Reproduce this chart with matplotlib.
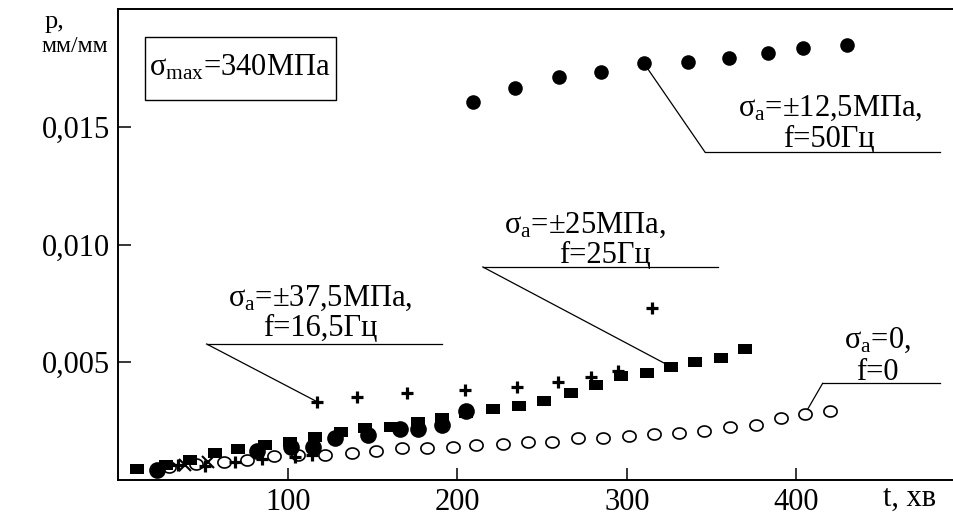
import numpy as np
import matplotlib

matplotlib.use("Agg")
import matplotlib.pyplot as plt
from matplotlib.patches import Rectangle

plt.rcParams["font.family"] = ["Liberation Serif", "DejaVu Serif"]
plt.rcParams["mathtext.fontset"] = "custom"
plt.rcParams["mathtext.rm"] = "Liberation Serif"
plt.rcParams["mathtext.it"] = "Liberation Serif:italic"

# sigma_a = +-12.5 MPa, f = 50 Hz (filled circles, top)
t_f50 = [209, 234, 260, 285, 310, 336, 360, 383, 404, 430]
p_f50 = [0.01607, 0.01663, 0.01713, 0.01734, 0.01770, 0.01776, 0.01791, 0.01812, 0.01833, 0.01847]

# filled circles, early part
t_dot = [22.5, 81.5, 102, 115, 128, 147, 166, 177, 191, 205]
p_dot = [0.00042, 0.00125, 0.00141, 0.00141, 0.0018, 0.00193, 0.00215, 0.00215, 0.00234, 0.00295]

# sigma_a = +-25 MPa, f = 25 Hz (squares)
t_sq = [10.7, 28, 42, 57, 70.7, 86.4, 101, 116, 131, 145.5, 161, 177, 191, 205, 221,
        236.5, 251, 267, 282, 296.5, 312, 326, 340, 355.5, 369.6]
p_sq = [0.00045, 0.00062, 0.00085, 0.00113, 0.0013, 0.0015, 0.00163, 0.00184, 0.00205,
        0.0022, 0.00226, 0.00248, 0.00265, 0.00283, 0.00303, 0.00314, 0.00337, 0.00368,
        0.00403, 0.00442, 0.00453, 0.00481, 0.00503, 0.00517, 0.00555]

# sigma_a = 0, f = 0 (open circles)
t_open = [30, 46, 62, 75.6, 92, 106, 122, 137.6, 152, 167, 182, 197.5, 211, 226.7, 241.8,
          256, 271, 285.7, 301, 316, 331, 345.6, 360.8, 376, 391, 405, 420]
p_open = [0.00057, 0.0007, 0.00078, 0.00085, 0.00102, 0.00107, 0.00105, 0.00113, 0.00124,
          0.00135, 0.00135, 0.00141, 0.00148, 0.00153, 0.0016, 0.00163, 0.00177, 0.0018,
          0.00187, 0.00195, 0.002, 0.00208, 0.00226, 0.00234, 0.00265, 0.0028, 0.00291]

# sigma_a = +-37.5 MPa, f = 16.5 Hz (pluses)
t_plus = [35, 51, 68.7, 84.5, 104, 114, 117, 140.5, 170, 204.5, 235, 259.5, 279, 295, 314.6]
p_plus = [0.00064, 0.0006, 0.00078, 0.00088, 0.00096, 0.00106, 0.00333, 0.00354, 0.00368,
          0.00384, 0.00396, 0.00417, 0.00439, 0.00463, 0.00729]

# crosses near the origin
t_x = [39, 53]
p_x = [0.00064, 0.00078]

x_ticks = [100, 200, 300, 400]
y_ticks = [0.005, 0.010, 0.015]
y_tick_labels = ["0,005", "0,010", "0,015"]

W, H = 954, 525
FS = 22

fig = plt.figure(figsize=(W / 100, H / 100), dpi=100)
ax = fig.add_axes([118.5 / W, 45 / H, (W - 118.5) / W, 471 / H])
ax.set_xlim(0, 493)
ax.set_ylim(0, 0.020)

theta = np.linspace(0, 2 * np.pi, 60)
ellipse = list(zip(1.2 * np.cos(theta), np.sin(theta)))
rect = [(-1.4, -1), (1.4, -1), (1.4, 1), (-1.4, 1), (-1.4, -1)]

ax.plot(t_open, p_open, ls="none", marker=ellipse, ms=9.5, mfc="white", mec="black",
        mew=1.2, zorder=3)
ax.plot(t_x, p_x, ls="none", marker="x", ms=8, mec="black", mew=1.5, zorder=4)
ax.plot(t_plus, p_plus, ls="none", marker="+", ms=8.5, mec="black", mew=2.3, zorder=5)
ax.plot(t_sq, p_sq, ls="none", marker=rect, ms=9.4, mfc="black", mec="black", mew=0,
        zorder=4)
ax.plot(t_dot, p_dot, ls="none", marker="o", ms=12, mfc="black", mec="black", mew=0,
        zorder=4)
ax.plot(t_f50, p_f50, ls="none", marker="o", ms=10.5, mfc="black", mec="black", mew=0,
        zorder=4)

lk = dict(color="black", lw=0.9, zorder=2)

# sigma_a=+-12.5
ax.plot([346, 485], [0.01393, 0.01393], **lk)
ax.plot([346, t_f50[4]], [0.01393, p_f50[4]], **lk)
ax.text(419.8, 0.0158, "σ$_\\mathrm{a}$=±12,5МПа,", fontsize=FS, ha="center", va="center")
ax.text(419.2, 0.01444, "f=50Гц", fontsize=FS, ha="center", va="center")

# sigma_a=+-25
ax.plot([215, 353.6], [0.009045, 0.009045], **lk)
ax.plot([215, t_sq[21]], [0.009045, p_sq[21]], **lk)
ax.text(275.2, 0.01083, "σ$_\\mathrm{a}$=±25МПа,", fontsize=FS, ha="center", va="center")
ax.text(287, 0.00955, "f=25Гц", fontsize=FS, ha="center", va="center")

# sigma_a=+-37.5
ax.plot([52, 190.7], [0.005775, 0.005775], **lk)
ax.plot([52, t_plus[6]], [0.005775, p_plus[6]], **lk)
ax.text(118.9, 0.00773, "σ$_\\mathrm{a}$=±37,5МПа,", fontsize=FS, ha="center", va="center")
ax.text(118.9, 0.006454, "f=16,5Гц", fontsize=FS, ha="center", va="center")

# sigma_a=0
ax.plot([415.5, 485], [0.004106, 0.004106], **lk)
ax.plot([415.5, t_open[25]], [0.004106, p_open[25]], **lk)
ax.text(448, 0.00595, "σ$_\\mathrm{a}$=0,", fontsize=FS, ha="center", va="center")
ax.text(447.7, 0.00458, "f=0", fontsize=FS, ha="center", va="center")

# sigma_max box
ax.add_patch(Rectangle((0.0317, 0.8068), 0.2286, 0.1338, transform=ax.transAxes,
                       fill=False, ec="black", lw=1.0, zorder=2))
ax.text(0.1454, 0.8747, "σ$_\\mathrm{max}$=340МПа", transform=ax.transAxes,
        fontsize=FS, ha="center", va="center")

ax.set_xticks(x_ticks)
ax.set_xticklabels([str(v) for v in x_ticks])
ax.set_yticks(y_ticks)
ax.set_yticklabels(y_tick_labels)
ax.tick_params(direction="in", length=9, width=1.1, labelsize=FS, color="black")
ax.tick_params(axis="y", pad=6)
ax.tick_params(axis="x", pad=6)
for side in ["left", "bottom", "top"]:
    ax.spines[side].set_linewidth(1.4)
ax.spines["right"].set_visible(False)

fig.text(54 / W, 1 - 22 / H, "p,", fontsize=19, ha="center", va="center")
fig.text(75 / W, 1 - 46 / H, "мм/мм", fontsize=17, ha="center", va="center")
fig.text(910 / W, 1 - 498 / H, "t, хв", fontsize=FS, ha="center", va="center")

fig.savefig("out.png", dpi=100, facecolor="white")
